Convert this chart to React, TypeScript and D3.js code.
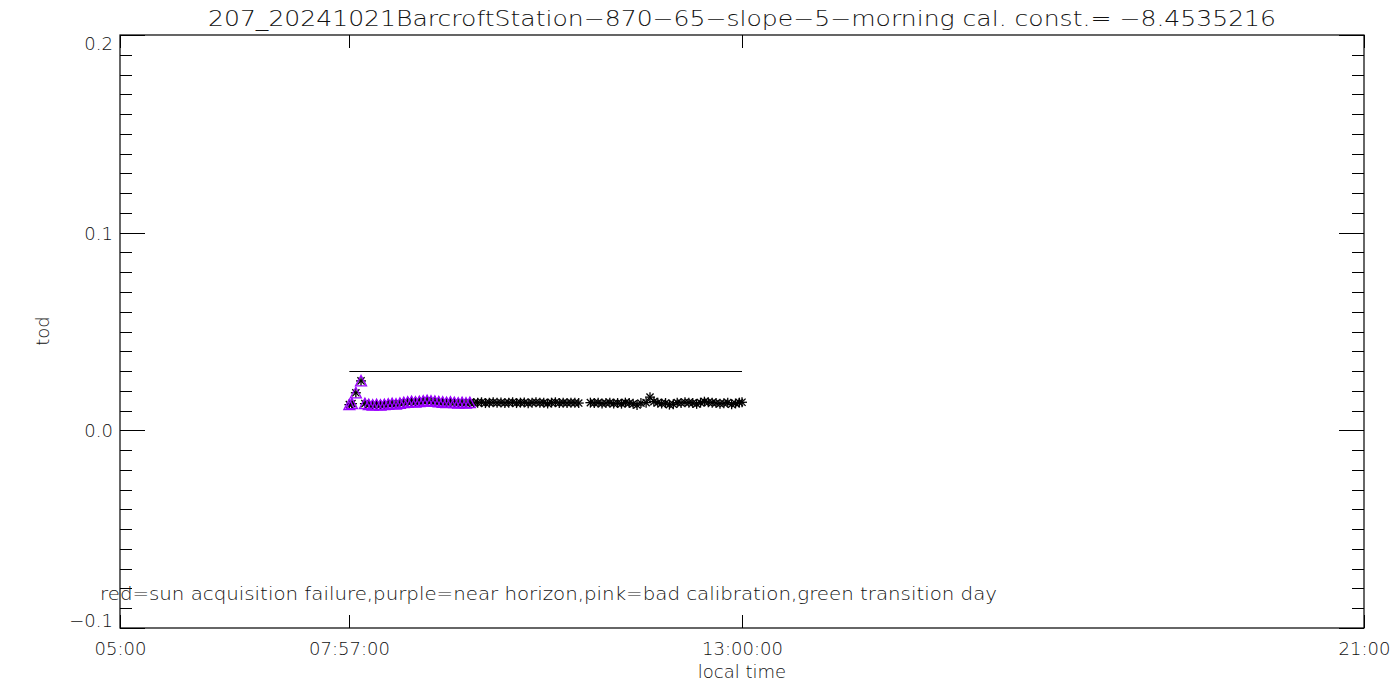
import React from "react";
import * as d3 from "d3";

const TITLE = "207_20241021BarcroftStation\u2212870\u221265\u2212slope\u22125\u2212morning cal. const.= \u22128.4535216";
const LEGEND = "red=sun acquisition failure,purple=near horizon,pink=bad calibration,green transition day";

const yTickValues = [0.2, 0.1, 0.0, -0.1];
const yTickLabels = ["0.2", "0.1", "0.0", "\u22120.1"];
const xTickTimes = ["05:00", "07:57", "13:00", "21:00"];
const xTickLabels = ["05:00", "07:57:00", "13:00:00", "21:00"];

// near-horizon (purple) observations
const purpleTimes = ["07:57","07:59","08:02","08:06","08:09","08:12","08:15","08:18","08:21","08:24","08:27","08:30","08:33","08:36","08:39","08:42","08:45","08:48","08:51","08:54","08:57","09:00","09:03","09:06","09:09","09:12","09:15","09:18","09:21","09:24","09:27","09:30"];
const purpleTod = [0.0130,0.0135,0.0190,0.0250,0.0135,0.0130,0.0128,0.0130,0.0128,0.0130,0.0132,0.0135,0.0133,0.0136,0.0140,0.0142,0.0145,0.0143,0.0145,0.0148,0.0150,0.0148,0.0146,0.0144,0.0142,0.0140,0.0142,0.0140,0.0138,0.0140,0.0138,0.0140];

// remaining observations (black only)
const otherTimes = ["09:33","09:36","09:39","09:42","09:45","09:48","09:51","09:54","09:57","10:00","10:03","10:06","10:09","10:12","10:15","10:18","10:21","10:24","10:27","10:30","10:33","10:36","10:39","10:42","10:45","10:48","10:51","10:54","11:03","11:06","11:09","11:12","11:15","11:18","11:21","11:24","11:27","11:30","11:33","11:36","11:39","11:42","11:46","11:49","11:52","11:55","11:58","12:01","12:04","12:07","12:10","12:13","12:16","12:19","12:22","12:25","12:28","12:31","12:34","12:37","12:40","12:43","12:46","12:49","12:52","12:55","12:58","13:00"];
const otherTod = [0.0138,0.0140,0.0142,0.0138,0.0140,0.0142,0.0139,0.0141,0.0138,0.0140,0.0142,0.0138,0.0140,0.0141,0.0137,0.0140,0.0142,0.0139,0.0140,0.0136,0.0140,0.0142,0.0138,0.0140,0.0138,0.0140,0.0139,0.0138,0.0140,0.0138,0.0140,0.0136,0.0138,0.0140,0.0136,0.0138,0.0135,0.0140,0.0138,0.0134,0.0128,0.0138,0.0140,0.0168,0.0145,0.0140,0.0136,0.0138,0.0130,0.0132,0.0140,0.0138,0.0142,0.0140,0.0138,0.0134,0.0140,0.0145,0.0142,0.0140,0.0138,0.0135,0.0137,0.0140,0.0132,0.0136,0.0140,0.0142];

const refLineStart = "07:57";
const refLineEnd = "13:00";
const refLineTod = 0.03;

const toHours = (s: string) => {
  const [h, m] = s.split(":").map(Number);
  return h + m / 60;
};

const L = 120, R = 1364, T = 35, B = 628;
const FONT = "'DejaVu Sans', sans-serif";
const TXT = "#111";

export default function App() {
  const x = d3.scaleLinear().domain([5, 21]).range([L, R]);
  const y = d3.scaleLinear().domain([-0.1, 0.2]).range([B, T]);

  const minor = d3.range(-10, 21).map((i) => i / 100);

  const asterisk = (cx: number, cy: number, k: string) => {
    const r = 5, d = 3.6;
    return (
      <g key={k} stroke="#000" strokeWidth={1.3}>
        <line x1={cx - r} y1={cy} x2={cx + r} y2={cy} />
        <line x1={cx} y1={cy - r} x2={cx} y2={cy + r} />
        <line x1={cx - d} y1={cy - d} x2={cx + d} y2={cy + d} />
        <line x1={cx - d} y1={cy + d} x2={cx + d} y2={cy - d} />
      </g>
    );
  };
  const triangle = (cx: number, cy: number, k: string) => (
    <path
      key={k}
      d={`M${cx - 5.5},${cy + 5}L${cx + 5.5},${cy + 5}L${cx},${cy - 5.5}Z`}
      fill="none"
      stroke="#9b00ff"
      strokeWidth={1.3}
    />
  );

  const all = [
    ...purpleTimes.map((t, i) => ({ t, v: purpleTod[i] })),
    ...otherTimes.map((t, i) => ({ t, v: otherTod[i] })),
  ];

  return (
    <svg width={1400} height={700} style={{ display: "block", position: "absolute", left: 0, top: 0, background: "#fff" }}>
      <rect x={0} y={0} width={1400} height={700} fill="#fff" />
      <text x={742} y={26} textAnchor="middle" fill={TXT} fontFamily={FONT} fontWeight={200} fontSize={22} textLength={1068} lengthAdjust="spacingAndGlyphs">{TITLE}</text>

      <rect x={L} y={T} width={R - L} height={B - T} fill="none" stroke="#000" strokeWidth={1.2} />

      {minor.map((v, i) => {
        const major = Math.abs(v * 10 - Math.round(v * 10)) < 1e-6;
        const len = major ? 25 : 12;
        const yy = Math.round(y(v)) + 0.5;
        return (
          <g key={"yt" + i} stroke="#000" strokeWidth={1}>
            <line x1={L} x2={L + len} y1={yy} y2={yy} />
            <line x1={R} x2={R - len} y1={yy} y2={yy} />
          </g>
        );
      })}

      {yTickValues.map((v, i) => {
        let yy = y(v) + 7;
        if (i === 0) yy = y(v) + 15;
        if (i === yTickValues.length - 1) yy = y(v) - 1;
        return (
          <text key={"yl" + i} x={113} y={yy} textAnchor="end" fill={TXT} fontFamily={FONT} fontWeight={200} fontSize={18}>{yTickLabels[i]}</text>
        );
      })}

      {xTickTimes.map((t, i) => {
        const xx = Math.round(x(toHours(t))) + 0.5;
        return (
          <g key={"xt" + i}>
            <line x1={xx} x2={xx} y1={B} y2={B - 13} stroke="#000" />
            <line x1={xx} x2={xx} y1={T} y2={T + 13} stroke="#000" />
            <text x={xx} y={655} textAnchor="middle" fill={TXT} fontFamily={FONT} fontWeight={200} fontSize={18}>{xTickLabels[i]}</text>
          </g>
        );
      })}

      <text x={742} y={678} textAnchor="middle" fill={TXT} fontFamily={FONT} fontWeight={200} fontSize={18}>local time</text>
      <text transform={`translate(49,331) rotate(-90)`} textAnchor="middle" fill={TXT} fontFamily={FONT} fontWeight={200} fontSize={18}>tod</text>

      <line x1={x(toHours(refLineStart))} x2={x(toHours(refLineEnd))} y1={Math.round(y(refLineTod)) + 0.5} y2={Math.round(y(refLineTod)) + 0.5} stroke="#000" strokeWidth={1.2} />

      {all.map((d, i) => asterisk(x(toHours(d.t)), y(d.v), "a" + i))}
      {purpleTimes.map((t, i) => triangle(x(toHours(t)), y(purpleTod[i]), "p" + i))}

      <text x={100} y={600} fill={TXT} fontFamily={FONT} fontWeight={200} fontSize={18} textLength={897} lengthAdjust="spacingAndGlyphs">{LEGEND}</text>
    </svg>
  );
}
